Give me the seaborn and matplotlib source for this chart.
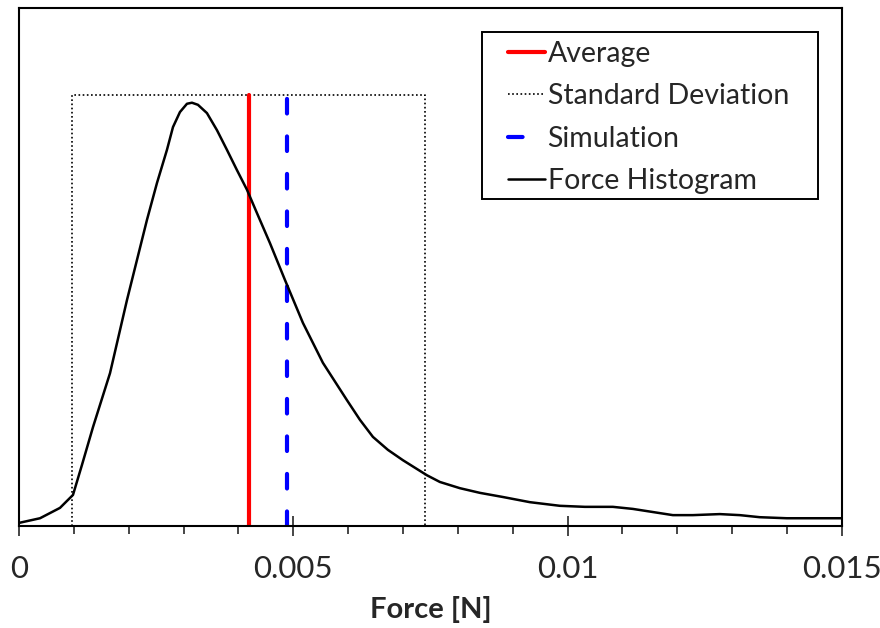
import numpy as np
import pandas as pd
import seaborn as sns
import matplotlib.pyplot as plt
from matplotlib.patches import Rectangle
from matplotlib.ticker import MultipleLocator

sns.set_theme(style="white")
plt.rcParams["font.family"] = ["Lato", "DejaVu Sans"]

# Force histogram curve (force in mN, relative frequency)
force_mn = [0.0, 0.383, 0.747, 0.984, 1.148, 1.349, 1.659, 1.968, 2.333, 2.515,
            2.697, 2.807, 2.934, 3.062, 3.153, 3.262, 3.426, 3.609, 3.791, 3.973,
            4.156, 4.338, 4.575, 4.848, 5.176, 5.540, 5.978, 6.215, 6.452, 6.725,
            6.999, 7.436, 7.673, 8.038, 8.402, 8.821, 9.314, 9.860, 10.316, 10.826,
            11.191, 11.555, 11.920, 12.284, 12.776, 13.141, 13.505, 13.997, 14.471, 15.0]
freq = [0.006, 0.015, 0.035, 0.060, 0.118, 0.191, 0.295, 0.436, 0.591, 0.662,
        0.726, 0.770, 0.799, 0.815, 0.817, 0.813, 0.797, 0.764, 0.726, 0.687,
        0.649, 0.604, 0.546, 0.475, 0.392, 0.315, 0.243, 0.205, 0.172, 0.147,
        0.127, 0.098, 0.085, 0.073, 0.064, 0.056, 0.046, 0.039, 0.037, 0.037,
        0.033, 0.027, 0.021, 0.021, 0.023, 0.021, 0.017, 0.015, 0.015, 0.015]

avg_force = 0.00419
std_force = 0.00322
sim_force = 0.00488
marker_top = 0.832

df = pd.DataFrame({"force": np.array(force_mn) * 1e-3, "freq": freq})

fig = plt.figure(figsize=(8.8, 6.28), dpi=100)
ax = fig.add_axes([0.0216, 0.1624, 0.935, 0.825])

# standard deviation box
lo, hi = avg_force - std_force, avg_force + std_force
ax.plot([lo, lo, hi, hi, lo], [0, marker_top, marker_top, 0, 0],
        color="black", linestyle=(0, (1, 1.5)), linewidth=1.2, label="Standard Deviation")

ax.plot([avg_force, avg_force], [0, marker_top], color="#ff0000", linewidth=3,
        label="Average")
ax.plot([sim_force, sim_force], [0, marker_top], color="#0000ff", linewidth=3,
        linestyle=(0, (3.5, 5.5)), dash_capstyle="round", label="Simulation")

sns.lineplot(data=df, x="force", y="freq", color="black", linewidth=1.8,
             ax=ax, label="Force Histogram")

ax.set_xlim(0, 0.015)
ax.set_ylim(0, 1)
ax.set_yticks([])
ax.set_ylabel("")
ax.set_xticks([0, 0.005, 0.01, 0.015])
ax.set_xticklabels(["0", "0.005", "0.01", "0.015"])
ax.xaxis.set_minor_locator(MultipleLocator(0.001))
ax.tick_params(axis="x", which="major", direction="inout", length=14, width=1.2,
               labelsize=22.5, pad=14, bottom=True)
ax.tick_params(axis="x", which="minor", direction="out", length=6, width=1.2, bottom=True)
ax.set_xlabel("Force [N]", fontsize=21, fontweight="bold", labelpad=9)

for s in ax.spines.values():
    s.set_color("black")
    s.set_linewidth(1.5)

# legend with a plain square frame
ax.add_patch(Rectangle((0.5626, 0.631), 0.4082, 0.323, transform=ax.transAxes,
                       facecolor="white", edgecolor="black", linewidth=1.4, zorder=4))
handles, labels = ax.get_legend_handles_labels()
order = ["Average", "Standard Deviation", "Simulation", "Force Histogram"]
hmap = dict(zip(labels, handles))
leg = ax.legend([hmap[k] for k in order], order, loc="upper left",
                bbox_to_anchor=(0.594, 0.937), fontsize=20.5, frameon=False,
                handlelength=1.3, handletextpad=0.1,
                labelspacing=0.58, borderpad=0, borderaxespad=0)
leg.set_zorder(5)

fig.savefig("out.png", dpi=100)
